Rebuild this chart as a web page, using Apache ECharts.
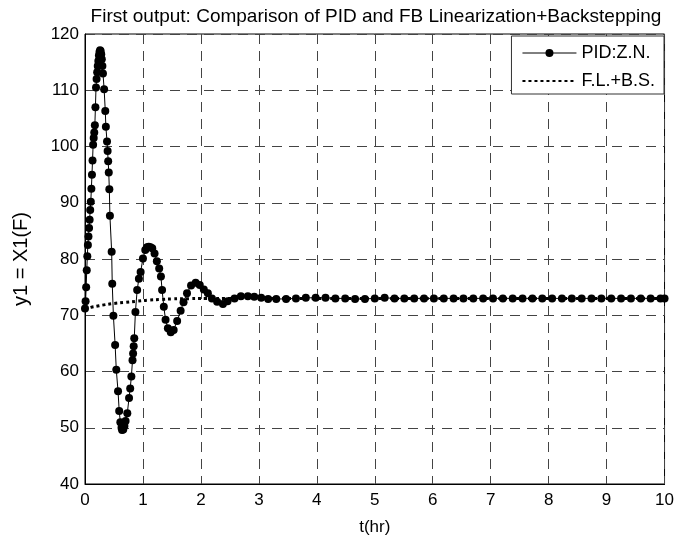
<!DOCTYPE html>
<html>
<head>
<meta charset="utf-8">
<script src="https://cdn.jsdelivr.net/npm/echarts@6/dist/echarts.min.js"></script>
<style>
html,body{margin:0;padding:0;background:#fff;}
#chart{width:677px;height:547px;}
</style>
</head>
<body>
<div id="chart"></div>
<script>
// ---- Data ----
var titleText = "First output: Comparison of PID and FB Linearization+Backstepping";
var xTicks = [0,1,2,3,4,5,6,7,8,9,10];
var yTicks = [40,50,60,70,80,90,100,110,120];

// PID:Z.N. response (time in hr, y1 value)
var pidT = [0,0.01,0.02,0.03,0.04,0.05,0.06,0.07,0.08,0.09,0.10,0.11,0.12,0.13,0.14,0.15,0.16,0.17,0.18,0.19,0.20,0.21,0.22,0.23,0.24,0.25,0.26,0.27,0.28,0.29,0.30,
  0.31,0.33,0.35,0.36,0.38,0.39,0.40,0.41,0.42,0.43,0.46,0.47,0.49,0.52,0.54,0.57,0.59,0.61,0.63,0.64,0.66,0.68,0.70,0.73,0.76,0.78,0.80,0.82,0.83,0.84,0.85,0.87,0.90,0.93,0.96,
  1.00,1.04,1.07,1.10,1.13,1.16,1.20,1.24,1.28,1.31,1.33,1.36,1.39,1.43,1.48,1.53,1.59,1.65,1.70,1.76,1.83,1.91,1.98,2.05,2.12,2.19,2.28,2.38,2.46,2.58,2.69,2.81,2.92,3.04,3.16,3.30,
  3.47,3.64,3.81,3.98,4.15,4.32,4.49,4.66,4.83,5.00,5.17,5.34,5.51,5.68,5.85,6.02,6.19,6.36,6.53,6.70,6.87,7.04,7.21,7.38,7.55,7.72,7.89,8.06,8.23,8.40,8.57,8.74,8.91,9.08,9.25,9.42,9.59,9.76,9.93,10.0];
var pidY = [71.2,72.5,75.0,78.0,80.5,82.5,84.0,85.5,87.0,88.7,90.2,92.5,95.0,97.5,100.3,101.5,102.5,103.8,107.0,110.5,112.0,113.2,114.3,115.2,116.2,116.8,117.1,117.0,116.4,115.5,114.3,
  113.0,110.2,106.3,103.5,100.9,99.2,97.4,95.4,92.4,87.7,81.3,75.6,69.9,64.7,60.3,56.5,53.0,51.0,50.0,49.6,49.7,50.3,51.2,52.6,55.3,57.0,59.1,62.0,63.2,64.5,65.9,70.6,74.5,76.5,77.7,
  80.1,81.6,82.1,82.2,82.1,81.9,81.0,79.6,78.3,76.9,74.5,71.5,69.2,67.7,67.0,67.4,69.0,70.8,72.3,73.9,75.3,75.8,75.4,74.6,73.9,73.0,72.4,72.0,72.5,73.0,73.4,73.4,73.3,73.1,72.9,72.9,
  72.9,73.0,73.1,73.1,73.1,73.0,73.0,72.9,72.9,73.0,73.1,73.0,73.0,73.0,73.0,73.0,73.0,73.0,73.0,73.0,73.0,73.0,73.0,73.0,73.0,73.0,73.0,73.0,73.0,73.0,73.0,73.0,73.0,73.0,73.0,73.0,73.0,73.0,73.0,73.0];

// F.L.+B.S. response
var fbT = [0,0.1,0.2,0.3,0.5,0.7,0.9,1.1,1.3,1.5,1.8,2.1,2.5,3,4,5,6,7,8,9,10];
var fbY = [71.0,71.4,71.6,71.8,72.1,72.3,72.5,72.7,72.8,72.9,72.95,73.0,73.0,73.0,73.0,73.0,73.0,73.0,73.0,73.0,73.0];

var seriesNames = ["PID:Z.N.", "F.L.+B.S."];

function pairs(xs, ys){ var out=[]; for (var i=0;i<xs.length;i++) out.push([xs[i], ys[i]]); return out; }

var chart = echarts.init(document.getElementById('chart'), null, {renderer:'canvas'});
var FONT = 'Liberation Sans, Arial, Helvetica, sans-serif';
chart.setOption({
  animation: false,
  backgroundColor: '#fff',
  title: {
    text: titleText,
    left: 371, top: 2, textAlign: 'center',
    textStyle: {fontFamily: FONT, fontSize: 19, fontWeight: 'normal', color: '#000'}
  },
  legend: {
    data: [
      {name: seriesNames[0], lineStyle: {width: 1}},
      {name: seriesNames[1], itemStyle: {opacity: 0}}
    ],
    orient: 'vertical',
    right: 13, top: 36,
    padding: [8, 9, 4, 10],
    itemGap: 10,
    itemWidth: 54, itemHeight: 10,
    backgroundColor: '#fff',
    borderColor: '#333', borderWidth: 1,
    textStyle: {fontFamily: FONT, fontSize: 18, color: '#000', lineHeight: 16}
  },
  grid: {left: 85, right: 10, top: 34, bottom: 63, show: true, borderColor: '#000', borderWidth: 1, backgroundColor: 'transparent'},
  xAxis: {
    type: 'value', min: 0, max: 10, interval: 1,
    name: 't(hr)', nameLocation: 'middle', nameGap: 35,
    nameTextStyle: {fontFamily: FONT, fontSize: 17, color: '#000'},
    axisLine: {show: true, lineStyle: {color: '#000', width: 1}},
    axisTick: {show: false},
    axisLabel: {fontFamily: FONT, fontSize: 17, color: '#000', margin: 8},
    splitLine: {show: true, lineStyle: {color: '#444', width: 1, type: [10, 7]}}
  },
  yAxis: {
    type: 'value', min: 40, max: 120, interval: 10,
    name: 'y1 = X1(F)', nameLocation: 'middle', nameGap: 54, nameRotate: 90,
    nameTextStyle: {fontFamily: FONT, fontSize: 20, color: '#000'},
    axisLine: {show: true, lineStyle: {color: '#000', width: 1}},
    axisTick: {show: false},
    axisLabel: {fontFamily: FONT, fontSize: 17, color: '#000', margin: 6},
    splitLine: {show: true, lineStyle: {color: '#444', width: 1, type: [10, 7]}}
  },
  series: [
    {
      name: seriesNames[0], type: 'line',
      data: pairs(pidT, pidY),
      showAllSymbol: true, symbol: 'circle', symbolSize: 8,
      itemStyle: {color: '#000'},
      lineStyle: {color: '#000', width: 1},
      z: 3
    },
    {
      name: seriesNames[1], type: 'line',
      data: pairs(fbT, fbY),
      smooth: true, showSymbol: false, symbol: 'none',
      itemStyle: {color: '#000'},
      lineStyle: {color: '#000', width: 3, type: [3, 3]},
      z: 2
    }
  ]
});
</script>
</body>
</html>
